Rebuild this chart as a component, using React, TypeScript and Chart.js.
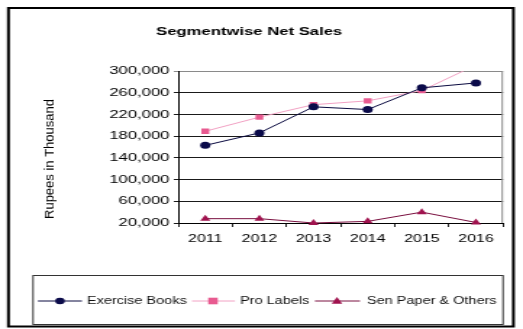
import React, { useEffect, useRef } from "react";
import { Chart, registerables } from "chart.js";

Chart.register(...registerables);

const years = ["2011", "2012", "2013", "2014", "2015", "2016"];
const exerciseBooks = [163000, 186000, 234000, 229000, 269000, 278000];
const proLabels = [189000, 215000, 238000, 245000, 264000, 311000];
const senPaper = [28000, 28000, 20000, 23000, 40000, 21000];
const seriesNames = ["Exercise Books", "Pro Labels", "Sen Paper & Others"];
const yMin = 20000;
const yMax = 300000;
const yStep = 40000;
const chartTitle = "Segmentwise Net Sales";
const yTitle = "Rupees in Thousand";

const W = 361; // internal drawing width, stretched to 523 by CSS
const H = 329;
const SX = 523 / W;
const FONT = "'Liberation Sans', Arial, sans-serif";

function marker(ctx: CanvasRenderingContext2D, style: string, x: number, y: number, r: number, color: string) {
  ctx.save();
  ctx.fillStyle = color;
  ctx.beginPath();
  if (style === "circle") {
    ctx.arc(x, y, r, 0, Math.PI * 2);
  } else if (style === "rect") {
    ctx.rect(x - r, y - r, r * 2, r * 2);
  } else {
    ctx.moveTo(x, y - r * 1.2);
    ctx.lineTo(x + r * 1.1, y + r * 0.8);
    ctx.lineTo(x - r * 1.1, y + r * 0.8);
    ctx.closePath();
  }
  ctx.fill();
  ctx.restore();
}

const decorPlugin = {
  id: "decor",
  beforeDraw(chart: any) {
    const ctx = chart.ctx as CanvasRenderingContext2D;
    ctx.save();
    ctx.fillStyle = "#ffffff";
    ctx.fillRect(0, 0, W, H);
    ctx.restore();
  },
  afterDraw(chart: any) {
    const ctx = chart.ctx as CanvasRenderingContext2D;
    const area = chart.chartArea;
    ctx.save();
    // plot area right border
    ctx.strokeStyle = "#8a8a8a";
    ctx.lineWidth = 1;
    ctx.beginPath();
    ctx.moveTo(area.right - 0.5, area.top);
    ctx.lineTo(area.right - 0.5, area.bottom);
    ctx.stroke();

    // outer frame
    ctx.strokeStyle = "#000000";
    ctx.lineWidth = 2;
    ctx.strokeRect(5.8, 8, 348.6, 318.5);

    // title
    ctx.fillStyle = "#000";
    ctx.font = `bold 11.5px ${FONT}`;
    ctx.textAlign = "center";
    ctx.textBaseline = "middle";
    ctx.fillText(chartTitle, 172, 32);

    // y axis title (counter-scaled so glyphs are not stretched)
    ctx.save();
    ctx.translate(34.5, 159);
    ctx.scale(1 / SX, 1);
    ctx.rotate(-Math.PI / 2);
    ctx.font = `13px ${FONT}`;
    ctx.fillText(yTitle, 0, 0);
    ctx.restore();

    // legend box
    ctx.strokeStyle = "#333";
    ctx.lineWidth = 1;
    ctx.strokeRect(22.8, 275.5, 324.4, 49);
    const items = [
      { x1: 26.2, x2: 56.6, m: 41.4, t: 60 },
      { x1: 132.5, x2: 162.2, m: 147, t: 165.7 },
      { x1: 217.4, x2: 248.5, m: 232.6, t: 253.3 },
    ];
    const ly = 301;
    chart.data.datasets.forEach((ds: any, i: number) => {
      const it = items[i];
      ctx.strokeStyle = ds.borderColor;
      ctx.lineWidth = 1;
      ctx.beginPath();
      ctx.moveTo(it.x1, ly);
      ctx.lineTo(it.x2, ly);
      ctx.stroke();
      marker(ctx, ds.pointStyle, it.m, ly, 3.3, ds.pointBackgroundColor);
      ctx.fillStyle = "#111";
      ctx.font = `10px ${FONT}`;
      ctx.textAlign = "left";
      ctx.textBaseline = "middle";
      ctx.fillText(ds.label, it.t, ly);
    });
    ctx.restore();
  },
};

export default function App() {
  const ref = useRef<HTMLCanvasElement | null>(null);
  useEffect(() => {
    if (!ref.current) return;
    const chart = new Chart(ref.current, {
      type: "line",
      data: {
        labels: years,
        datasets: [
          {
            label: seriesNames[0],
            data: exerciseBooks,
            borderColor: "#0a0a40",
            borderWidth: 1,
            pointStyle: "circle",
            pointRadius: 3.5,
            pointBackgroundColor: "#0b0b4a",
            pointBorderColor: "#0b0b4a",
            pointBorderWidth: 0,
            clip: false,
            tension: 0,
          },
          {
            label: seriesNames[1],
            data: proLabels,
            borderColor: "#f2a2c4",
            borderWidth: 1,
            pointStyle: "rect",
            pointRadius: 3.8,
            pointBackgroundColor: "#e85a90",
            pointBorderColor: "#e85a90",
            pointBorderWidth: 0,
            clip: { left: 10, right: 10, top: 0, bottom: 10 },
            tension: 0,
          },
          {
            label: seriesNames[2],
            data: senPaper,
            borderColor: "#7a1040",
            borderWidth: 1,
            pointStyle: "triangle",
            pointRadius: 4,
            pointBackgroundColor: "#a0124e",
            pointBorderColor: "#a0124e",
            pointBorderWidth: 0,
            clip: false,
            tension: 0,
          },
        ],
      } as any,
      options: {
        animation: false,
        responsive: false,
        devicePixelRatio: 1,
        layout: { padding: { left: 10, right: 13.8, top: 71, bottom: 76 } },
        plugins: {
          legend: { display: false },
          title: { display: false },
          tooltip: { enabled: false },
        },
        scales: {
          x: {
            offset: true,
            afterFit: (s: any) => {
              s.height = 30;
            },
            grid: {
              offset: true,
              drawOnChartArea: false,
              drawTicks: true,
              tickLength: 4,
              color: "#222",
            },
            border: { color: "#000", width: 1 },
            ticks: {
              color: "#000",
              font: { family: FONT, size: 11 },
              padding: 5,
              maxRotation: 0,
            },
          },
          y: {
            min: yMin,
            max: yMax,
            afterFit: (s: any) => {
              s.width = 113;
            },
            grid: {
              color: (c: any) => (c.tick && c.tick.value === yMax ? "#8a8a8a" : "#1a1a1a"),
              lineWidth: 1,
              tickLength: 3,
              drawTicks: true,
            },
            border: { color: "#000", width: 1 },
            ticks: {
              stepSize: yStep,
              color: "#000",
              font: { family: FONT, size: 11.5 },
              padding: 3,
              callback: (v: any) => Number(v).toLocaleString("en-US"),
            },
          },
        },
      } as any,
      plugins: [decorPlugin],
    });
    return () => chart.destroy();
  }, []);
  return (
    <canvas
      ref={ref}
      width={W}
      height={H}
      style={{ position: "fixed", left: 0, top: 0, width: "523px", height: "329px", display: "block" }}
    />
  );
}
